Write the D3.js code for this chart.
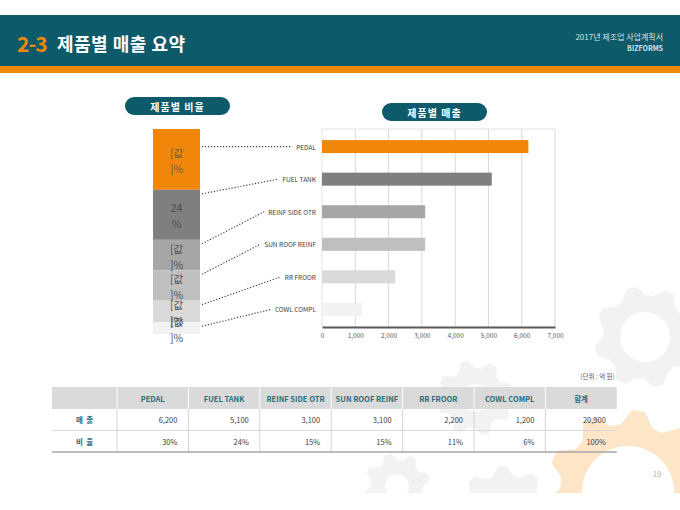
<!DOCTYPE html>
<html>
<head>
<meta charset="utf-8">
<script src="https://cdn.jsdelivr.net/npm/d3@7"></script>
<style>
  body { margin: 0; background: #fff; }
  svg { display: block; font-family: "Noto Sans CJK KR", "Noto Sans", sans-serif; }
  .rowlab { white-space: pre; }
</style>
</head>
<body>
<div id="chart"></div>
<script>
// data
var categories = ["PEDAL", "FUEL TANK", "REINF SIDE OTR", "SUN ROOF REINF", "RR FROOR", "COWL COMPL"];
var sales = [6200, 5100, 3100, 3100, 2200, 1200];
var shares = ["30%", "24%", "15%", "15%", "11%", "6%"];
var totalSales = "20,900";
var totalShare = "100%";
var stackLabels = [["[값", "]%"], ["24", "%"], ["[값", "]%"], ["[값", "]%"], ["[값", "]%"], ["[값", "]%"]];
var barColors = ["#f0870a", "#7f7f7f", "#a6a6a6", "#bfbfbf", "#d9d9d9", "#f2f2f2"];
var xTicks = [0, 1000, 2000, 3000, 4000, 5000, 6000, 7000];
var rowLabels = ["매  출", "비  율"];

var W = 680, H = 510;
var teal = "#0d5a6a", orange = "#ee890c";

var svg = d3.select("#chart").append("svg")
    .attr("width", W)
    .attr("height", H);

// background gears
function gearPath(r, teeth, depth, hole) {
    var p = d3.path(), n = teeth * 4;
    for (var i = 0; i <= n; i++) {
        var a = i / n * 2 * Math.PI;
        var rr = (Math.floor((i + 1) / 2) % 2 == 0) ? r : r + depth;
        var x = rr * Math.cos(a), y = rr * Math.sin(a);
        if (i == 0) p.moveTo(x, y); else p.lineTo(x, y);
    }
    p.closePath();
    p.moveTo(hole, 0);
    p.arc(0, 0, hole, 0, 2 * Math.PI, true);
    return p.toString();
}
var gears = [
    {x: 645, y: 337, r: 42, d: 9, t: 8, h: 25, c: "#f2f2f2"},
    {x: 475, y: 398, r: 30, d: 8, t: 8, h: 14, c: "#f2f2f2"},
    {x: 397, y: 486, r: 26, d: 7, t: 8, h: 12, c: "#f2f2f2"},
    {x: 505, y: 515, r: 40, d: 9, t: 9, h: 20, c: "#f2f2f2"},
    {x: 628, y: 492, r: 68, d: 14, t: 10, h: 46, c: "#fde6c8"}
];
svg.append("clipPath").attr("id", "slide")
  .append("rect").attr("width", W).attr("height", 493);
svg.append("g").attr("clip-path", "url(#slide)")
  .selectAll("path").data(gears).enter().append("path")
    .attr("transform", function(d) { return "translate(" + d.x + "," + d.y + ") rotate(12)"; })
    .attr("d", function(d) { return gearPath(d.r, d.t, d.d, d.h); })
    .attr("fill", function(d) { return d.c; })
    .attr("fill-rule", "evenodd");

// header band
svg.append("rect").attr("x", 0).attr("y", 15).attr("width", W).attr("height", 51).attr("fill", teal);
svg.append("rect").attr("x", 0).attr("y", 66).attr("width", W).attr("height", 7).attr("fill", orange);
svg.append("text").attr("x", 17).attr("y", 52)
    .attr("fill", orange).attr("font-size", 21).attr("font-weight", "bold")
    .attr("letter-spacing", -1).text("2-3");
svg.append("text").attr("x", 57).attr("y", 51)
    .attr("fill", "#fff").attr("font-size", 18).attr("font-weight", "bold")
    .attr("letter-spacing", 0.5).text("제품별 매출 요약");
svg.append("text").attr("x", 663).attr("y", 40).attr("text-anchor", "end")
    .attr("fill", "#d6e2e5").attr("font-size", 8).text("2017년 제조업 사업계획서");
svg.append("text").attr("x", 663).attr("y", 51).attr("text-anchor", "end")
    .attr("fill", "#d6e2e5").attr("font-size", 7).attr("font-weight", "bold").text("BIZFORMS");

// title pills
function pill(x, y, w, h, label) {
    svg.append("rect").attr("x", x).attr("y", y).attr("width", w).attr("height", h)
        .attr("rx", h / 2).attr("fill", teal);
    svg.append("text").attr("x", x + w / 2).attr("y", y + h / 2)
        .attr("text-anchor", "middle").attr("dominant-baseline", "central")
        .attr("fill", "#fff").attr("font-size", 10).attr("font-weight", "bold")
        .attr("letter-spacing", 1).text(label);
}
pill(125, 97, 105, 18, "제품별 비율");
pill(382, 103, 105, 18, "제품별 매출");

// stacked share bar
var sum = d3.sum(sales);
var ys = d3.scaleLinear().domain([0, sum]).range([129, 334]);
var cum = 0;
var stack = sales.map(function(v, i) {
    var s = {i: i, y0: ys(cum), y1: ys(cum + v)};
    cum += v;
    return s;
});
var stackX = 153, stackW = 47;

svg.selectAll(".seg").data(stack).enter().append("rect")
    .attr("class", "seg")
    .attr("x", stackX).attr("width", stackW)
    .attr("y", function(d) { return d.y0; })
    .attr("height", function(d) { return d.y1 - d.y0; })
    .attr("fill", function(d) { return barColors[d.i]; });

stack.forEach(function(d) {
    var mid = (d.y0 + d.y1) / 2;
    stackLabels[d.i].forEach(function(t, k) {
        svg.append("text")
            .attr("x", stackX + stackW / 2).attr("y", mid + (k == 0 ? -7 : 9))
            .attr("text-anchor", "middle").attr("dominant-baseline", "central")
            .attr("fill", d.i == 0 ? "#6b5a4a" : "#4d4d4d").attr("font-size", 10.5).text(t);
    });
});

// horizontal bar chart
var margin = {left: 322, top: 129},
    plotW = 233, plotH = 198;
var x = d3.scaleLinear().domain([0, 7000]).range([0, plotW]);
var y = d3.scaleBand().domain(categories).range([0, plotH])
    .paddingInner(0.6).paddingOuter(0.34);

var g = svg.append("g")
    .attr("transform", "translate(" + margin.left + "," + margin.top + ")");

g.append("line").attr("x1", 0).attr("x2", plotW).attr("y1", 0).attr("y2", 0)
    .attr("stroke", "#e3e3e3");
g.selectAll(".grid").data(xTicks).enter().append("line")
    .attr("class", "grid")
    .attr("x1", function(d) { return x(d); }).attr("x2", function(d) { return x(d); })
    .attr("y1", 0).attr("y2", plotH)
    .attr("stroke", function(d) { return d == 0 ? "#e3e3e3" : "#d9d9d9"; });

g.selectAll(".bar").data(sales).enter().append("rect")
    .attr("class", "bar")
    .attr("x", 0)
    .attr("y", function(d, i) { return y(categories[i]); })
    .attr("width", function(d) { return x(d); })
    .attr("height", y.bandwidth())
    .attr("fill", function(d, i) { return barColors[i]; });

var xAxis = g.append("g")
    .attr("transform", "translate(0," + plotH + ")")
    .call(d3.axisBottom(x).tickValues(xTicks).tickSize(0).tickPadding(6)
        .tickFormat(d3.format(",")));
xAxis.select(".domain").attr("stroke", "#595959").attr("stroke-width", 2);
xAxis.selectAll("text").attr("fill", "#595959").attr("font-size", 6.5)
    .attr("font-family", "'Noto Sans CJK KR', sans-serif");

// category labels with dotted leaders from the stack
var labelRight = 316;
categories.forEach(function(c, i) {
    var cy = margin.top + y(c) + y.bandwidth() / 2;
    var lab = svg.append("text")
        .attr("x", labelRight).attr("y", cy)
        .attr("text-anchor", "end").attr("dominant-baseline", "central")
        .attr("fill", "#404040").attr("font-size", 6.5).text(c);
    var lw = lab.node().getComputedTextLength();
    var sy = Math.max(stack[i].y0 + 4, cy);
    svg.append("line")
        .attr("x1", stackX + stackW + 2).attr("y1", sy)
        .attr("x2", labelRight - lw - 4).attr("y2", cy)
        .attr("stroke", "#404040").attr("stroke-width", 1.2)
        .attr("stroke-dasharray", "1.2,1.8");
});

// summary table
var tblX = 52, tblTop = 387, headH = 22, rowH = 21.5;
var colW = [65].concat(categories.map(function() { return 71.4; }), [71.4]);
var colX = [tblX];
colW.forEach(function(w, i) { colX.push(colX[i] + w); });
var tblR = colX[colX.length - 1];

svg.append("text").attr("x", tblR - 2).attr("y", 379).attr("text-anchor", "end")
    .attr("fill", "#595959").attr("font-size", 6.5).text("(단위 : 억 원)");

svg.append("rect").attr("x", tblX).attr("y", tblTop).attr("width", tblR - tblX)
    .attr("height", headH).attr("fill", "#dadada");

var heads = [""].concat(categories, ["합계"]);
svg.selectAll(".head").data(heads).enter().append("text")
    .attr("class", "head")
    .attr("x", function(d, i) { return colX[i] + colW[i] / 2; })
    .attr("y", tblTop + headH / 2)
    .attr("text-anchor", "middle").attr("dominant-baseline", "central")
    .attr("fill", "#2b6d7d").attr("font-size", 7.5).attr("font-weight", "bold")
    .text(function(d) { return d; });

var rows = [
    sales.map(d3.format(",")).concat([totalSales]),
    shares.concat([totalShare])
];
rows.forEach(function(r, ri) {
    var ry = tblTop + headH + ri * rowH;
    svg.append("text").attr("class", "rowlab")
        .attr("x", colX[0] + colW[0] / 2).attr("y", ry + rowH / 2)
        .attr("text-anchor", "middle").attr("dominant-baseline", "central")
        .attr("fill", "#2b6d7d").attr("font-size", 7.5).attr("font-weight", "bold")
        .text(rowLabels[ri]);
    svg.selectAll(".cell" + ri).data(r).enter().append("text")
        .attr("class", "cell" + ri)
        .attr("x", function(d, i) { return colX[i + 2] - 11; })
        .attr("y", ry + rowH / 2)
        .attr("text-anchor", "end").attr("dominant-baseline", "central")
        .attr("fill", "#404040").attr("font-size", 7.5)
        .text(function(d) { return d; });
});

// column separators
var bodyTop = tblTop + headH, bodyBot = bodyTop + 2 * rowH;
colX.slice(1, -1).forEach(function(cx) {
    svg.append("line").attr("x1", cx).attr("x2", cx).attr("y1", tblTop).attr("y2", bodyTop)
        .attr("stroke", "#fff").attr("stroke-width", 1);
    svg.append("line").attr("x1", cx).attr("x2", cx).attr("y1", bodyTop).attr("y2", bodyBot)
        .attr("stroke", "#d4d4d4").attr("stroke-width", 1);
});
svg.append("line").attr("x1", tblX).attr("x2", tblR).attr("y1", bodyTop + rowH).attr("y2", bodyTop + rowH)
    .attr("stroke", "#d9d9d9");
svg.append("line").attr("x1", tblX).attr("x2", tblR).attr("y1", bodyBot).attr("y2", bodyBot)
    .attr("stroke", "#a6a6a6").attr("stroke-width", 1.5);

// page number
svg.append("text").attr("x", 657).attr("y", 477).attr("text-anchor", "middle")
    .attr("fill", "#b0b0b0").attr("font-size", 7.5).text("19");
</script>
</body>
</html>
